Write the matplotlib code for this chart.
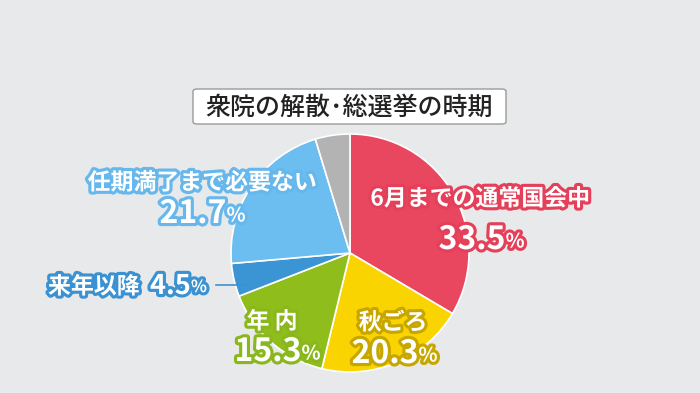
import matplotlib
matplotlib.use("Agg")
import matplotlib.pyplot as plt
import matplotlib.patheffects as pe
from matplotlib.patches import FancyBboxPatch

plt.rcParams['font.family'] = ['Noto Sans CJK JP', 'DejaVu Sans']

# data
title = "衆院の解散･総選挙の時期"
labels = ["6月までの通常国会中", "秋ごろ", "年 内", "来年以降", "任期満了まで必要ない", "その他"]
values = [33.5, 20.3, 15.3, 4.5, 21.7, 4.7]
colors = ["#e8475f", "#fad400", "#8fbd1c", "#3b95d4", "#6cbdf0", "#b3b3b3"]
strokes = ["#e4405a", "#c7a600", "#8ab81c", "#3a92d2", "#66b8ec", "#999999"]

W, H = 700, 393
fig = plt.figure(figsize=(W / 100, H / 100), dpi=100)
fig.patch.set_facecolor("#e8e9eb")


def px(x, y):
    return x / W, 1 - y / H


# pie
cx, cy, r = 350, 253, 119
ax = fig.add_axes([(cx - r) / W, (H - cy - r) / H, 2 * r / W, 2 * r / H])
ax.pie(values, colors=colors, startangle=90, counterclock=False,
       wedgeprops=dict(edgecolor="white", linewidth=1.2))
ax.set_xlim(-1, 1)
ax.set_ylim(-1, 1)
ax.axis("off")

# title box
bx0, by0, bx1, by1 = 193, 89, 506, 124
box = FancyBboxPatch(px(bx0, by1), (bx1 - bx0) / W, (by1 - by0) / H,
                     boxstyle="round,pad=0,rounding_size=0.006",
                     transform=fig.transFigure, facecolor="white",
                     edgecolor="#9a9a9a", linewidth=1)
fig.patches.append(box)
fig.text(*px((bx0 + bx1) / 2, (by0 + by1) / 2 + 1), title, ha="center", va="center",
         fontsize=18, fontweight="medium", color="#222222")


def label(x, y, s, stroke, size=16.5, ha="center"):
    return fig.text(*px(x, y), s, ha=ha, va="center", fontsize=size,
                    fontweight="bold", color="white",
                    path_effects=[pe.withStroke(linewidth=4.5, foreground=stroke)])


def pct(t, stroke, size):
    ax.annotate("%", xy=(1, 0.14), xycoords=t, ha="left", va="bottom",
                fontsize=size * 0.62, fontweight="bold", color="white",
                path_effects=[pe.withStroke(linewidth=4.5, foreground=stroke)])


def number(x, y, v, stroke, size=23, ha="center"):
    t = label(x, y, f"{v}", stroke, size=size, ha=ha)
    pct(t, stroke, size)
    return t


# red
label(480, 199, labels[0], strokes[0])
number(472, 240, values[0], strokes[0])
# yellow
label(393, 323, labels[1], strokes[1])
number(385, 354, values[1], strokes[1])
# green
label(272, 322, labels[2], strokes[2])
number(268, 352, values[2], strokes[2])
# blue small
label(48, 287, labels[3], strokes[3], size=16.5, ha="left")
number(150, 286, values[3], strokes[3], size=19.5, ha="left")
fig.add_artist(plt.Line2D([px(216, 0)[0], px(250, 0)[0]],
                          [px(0, 285)[1], px(0, 285)[1]],
                          color=strokes[3], linewidth=1.2))
# light blue
label(202, 183, labels[4], strokes[4])
number(193, 214, values[4], strokes[4])

fig.savefig("out.png", dpi=100, facecolor=fig.get_facecolor())
